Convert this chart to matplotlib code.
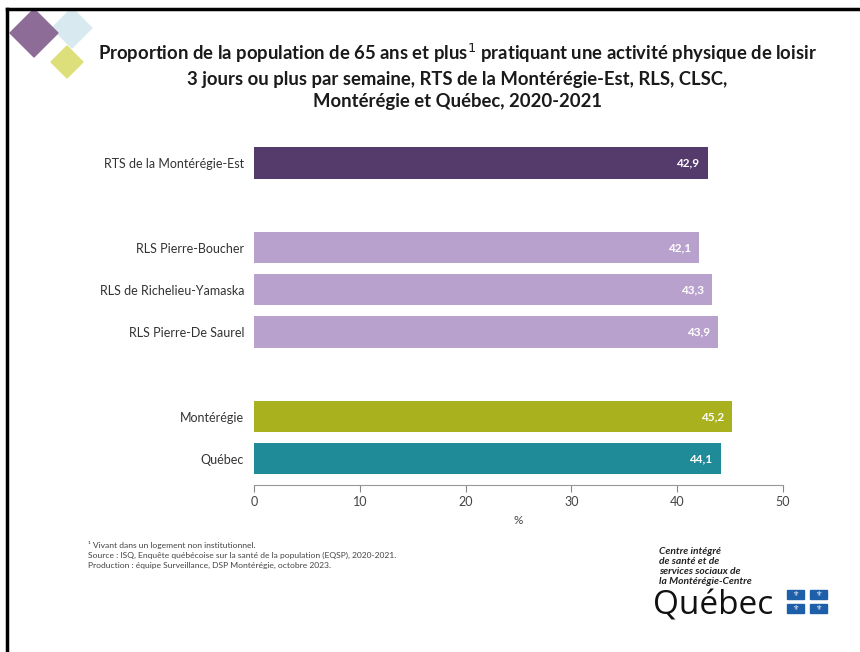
import matplotlib.pyplot as plt
from matplotlib.patches import Polygon, Rectangle
from matplotlib.lines import Line2D

# ---------------------------------------
# Data
# ---------------------------------------

labels = ["RTS de la Montérégie-Est", "RLS Pierre-Boucher", "RLS de Richelieu-Yamaska",
          "RLS Pierre-De Saurel", "Montérégie", "Québec"]
values = [42.9, 42.1, 43.3, 43.9, 45.2, 44.1]
positions = [0, 2, 3, 4, 6, 7]
colors = ["#553a6c", "#b9a1cd", "#b9a1cd", "#b9a1cd", "#a9b11f", "#1f8a98"]

title = ("Proportion de la population de 65 ans et plus$^{1}$ pratiquant une activité physique de loisir\n"
         "3 jours ou plus par semaine, RTS de la Montérégie-Est, RLS, CLSC,\n"
         "Montérégie et Québec, 2020-2021")

notes = ["¹ Vivant dans un logement non institutionnel.",
         "Source : ISQ, Enquête québécoise sur la santé de la population (EQSP), 2020-2021.",
         "Production : équipe Surveillance, DSP Montérégie, octobre 2023."]

plt.rcParams["font.family"] = ["Lato", "DejaVu Sans"]

fig = plt.figure(figsize=(8.6, 6.52), dpi=100)
ax = fig.add_axes([0.2953, 0.2561, 0.6152, 0.5326])

# ---------------------------------------
# Bars
# ---------------------------------------

ax.barh(positions, values, height=0.74, color=colors)
for p, v in zip(positions, values):
    ax.text(v - 0.8, p, f"{v:.1f}".replace(".", ","), ha="right", va="center",
            color="white", fontsize=8.5, fontweight="bold")

ax.set_xlim(0, 50)
ax.set_ylim(7.62, -0.6)
ax.set_xticks(range(0, 51, 10))
ax.set_yticks(positions)
ax.set_yticklabels(labels, fontsize=9, color="#333333")
ax.tick_params(axis="y", length=0, pad=7)
ax.tick_params(axis="x", colors="#888888", labelcolor="#444444", labelsize=9, length=5, pad=3)
ax.set_xlabel("%", fontsize=8.5, color="#444444", labelpad=5)

for s in ["top", "right", "left"]:
    ax.spines[s].set_visible(False)
ax.spines["bottom"].set_color("#999999")

# ---------------------------------------
# Title and notes
# ---------------------------------------

fig.text(0.532, 0.935, title, ha="center", va="top", fontsize=13.3, fontweight="bold",
         color="#1a1a1a", linespacing=1.36)

for i, n in enumerate(notes):
    fig.text(0.102, 1 - (545 + i * 10) / 652, n, fontsize=6.1, color="#444444", va="center")

# ---------------------------------------
# Decorations (frame, diamonds, logo)
# ---------------------------------------

def px(x, y):
    return (x / 860, 1 - y / 652)

fig.add_artist(Line2D([px(7, 0)[0], 1], [px(0, 9)[1]] * 2, color="black", lw=2.5))
fig.add_artist(Line2D([px(7, 0)[0]] * 2, [0, px(0, 9)[1]], color="black", lw=2.5))

def diamond(cx, cy, r, c):
    pts = [px(cx, cy - r), px(cx + r, cy), px(cx, cy + r), px(cx - r, cy)]
    fig.add_artist(Polygon(pts, closed=True, color=c, transform=fig.transFigure))

diamond(72, 28, 20, "#d8e9ef")
diamond(34, 33, 24, "#8d6c97")
diamond(67, 62, 16, "#dde07a")

logo_lines = ["Centre intégré", "de santé et de", "services sociaux de", "la Montérégie-Centre"]
for i, t in enumerate(logo_lines):
    fig.text(px(659, 0)[0], px(0, 551 + i * 10)[1], t, fontsize=7.4, fontweight="bold",
             fontstyle="italic", color="#222222", va="center")
fig.text(px(653, 0)[0], px(0, 615)[1], "Québec", fontsize=24, color="#111111", va="baseline",
         family=["Open Sans", "DejaVu Sans"])

for fx in [787, 810]:
    for fy in [590, 604]:
        x0, y0 = px(fx, fy + 9)
        fig.add_artist(Rectangle((x0, y0), 17 / 860, 9 / 652, color="#1d5fa8",
                                 transform=fig.transFigure))
        fig.text(x0 + 8.5 / 860, y0 + 4.5 / 652, "⚜", color="white", fontsize=5,
                 ha="center", va="center", family=["DejaVu Sans"])

plt.savefig("out.png", dpi=100)
